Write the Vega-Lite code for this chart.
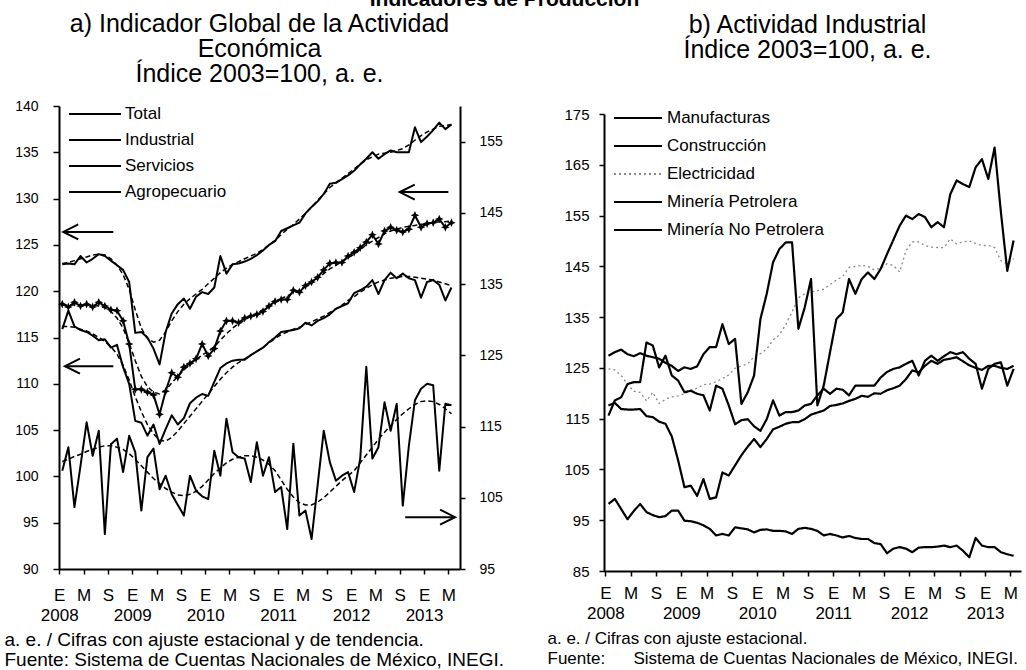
{
  "$schema": "https://vega.github.io/schema/vega-lite/v6.json",
  "background": "white",
  "padding": {"left": 4, "top": -11, "right": 2, "bottom": 2},
  "title": {"text": "Indicadores de Producción", "fontSize": 21, "fontWeight": "bold", "anchor": "middle", "offset": 2, "dx": -8, "color": "black", "font": "Liberation Sans"},
  "config": {
    "font": "Liberation Sans",
    "view": {"stroke": null},
    "axis": {"grid": false, "domainColor": "black", "domainWidth": 2, "tickColor": "black", "tickWidth": 1.5, "labelColor": "black", "titleColor": "black", "labelFont": "Liberation Sans", "titleFont": "Liberation Sans", "titleFontWeight": "normal", "labelOverlap": false},
    "axisX": {"labelOverlap": false, "labelFlush": false},
    "legend": {"labelColor": "black", "labelFont": "Liberation Sans", "padding": 0, "symbolFillColor": "transparent", "symbolStrokeWidth": 2, "labelLimit": 400}
  },
  "resolve": {"scale": {"color": "independent", "strokeDash": "independent", "shape": "independent"}, "legend": {"color": "independent", "strokeDash": "independent", "shape": "independent"}},
  "datasets": {
    "izq": [
      {"t":0,"Total":118.6,"Industrial":115.9,"Servicios":122.9,"Agropecuario":108.8,"Total_tend":118.5,"Industrial_tend":116.2,"Servicios_tend":123.0,"Agropecuario_tend":110.1},
      {"t":1,"Total":118.3,"Industrial":117.9,"Servicios":123.0,"Agropecuario":112.1,"Total_tend":118.5,"Industrial_tend":116.2,"Servicios_tend":123.1,"Agropecuario_tend":110.4},
      {"t":2,"Total":118.8,"Industrial":116.2,"Servicios":122.9,"Agropecuario":103.7,"Total_tend":118.5,"Industrial_tend":116.1,"Servicios_tend":123.3,"Agropecuario_tend":110.8},
      {"t":3,"Total":118.4,"Industrial":115.8,"Servicios":123.8,"Agropecuario":109.5,"Total_tend":118.5,"Industrial_tend":115.9,"Servicios_tend":123.5,"Agropecuario_tend":111.1},
      {"t":4,"Total":118.6,"Industrial":115.6,"Servicios":123.1,"Agropecuario":115.6,"Total_tend":118.5,"Industrial_tend":115.7,"Servicios_tend":123.7,"Agropecuario_tend":111.5},
      {"t":5,"Total":118.3,"Industrial":115.2,"Servicios":123.5,"Agropecuario":110.9,"Total_tend":118.5,"Industrial_tend":115.4,"Servicios_tend":123.9,"Agropecuario_tend":111.8},
      {"t":6,"Total":118.8,"Industrial":114.7,"Servicios":124.0,"Agropecuario":114.4,"Total_tend":118.4,"Industrial_tend":115.0,"Servicios_tend":124.0,"Agropecuario_tend":112.1},
      {"t":7,"Total":118.4,"Industrial":114.8,"Servicios":123.8,"Agropecuario":99.9,"Total_tend":118.2,"Industrial_tend":114.6,"Servicios_tend":123.9,"Agropecuario_tend":112.3},
      {"t":8,"Total":118.0,"Industrial":113.9,"Servicios":123.3,"Agropecuario":112.5,"Total_tend":117.8,"Industrial_tend":114.0,"Servicios_tend":123.5,"Agropecuario_tend":112.3},
      {"t":9,"Total":117.9,"Industrial":114.2,"Servicios":122.8,"Agropecuario":113.3,"Total_tend":117.1,"Industrial_tend":113.2,"Servicios_tend":122.8,"Agropecuario_tend":112.1},
      {"t":10,"Total":116.8,"Industrial":111.8,"Servicios":122.3,"Agropecuario":108.6,"Total_tend":116.0,"Industrial_tend":112.0,"Servicios_tend":121.8,"Agropecuario_tend":111.8},
      {"t":11,"Total":114.3,"Industrial":110.0,"Servicios":121.0,"Agropecuario":113.7,"Total_tend":114.4,"Industrial_tend":110.4,"Servicios_tend":120.2,"Agropecuario_tend":111.2},
      {"t":12,"Total":109.4,"Industrial":106.0,"Servicios":115.5,"Agropecuario":111.4,"Total_tend":112.5,"Industrial_tend":108.6,"Servicios_tend":118.0,"Agropecuario_tend":110.4},
      {"t":13,"Total":109.4,"Industrial":105.8,"Servicios":115.6,"Agropecuario":103.2,"Total_tend":110.8,"Industrial_tend":107.0,"Servicios_tend":116.0,"Agropecuario_tend":109.5},
      {"t":14,"Total":109.1,"Industrial":104.4,"Servicios":115.0,"Agropecuario":110.7,"Total_tend":109.7,"Industrial_tend":105.6,"Servicios_tend":114.9,"Agropecuario_tend":108.6},
      {"t":15,"Total":108.8,"Industrial":105.6,"Servicios":113.8,"Agropecuario":111.9,"Total_tend":109.1,"Industrial_tend":104.6,"Servicios_tend":114.5,"Agropecuario_tend":107.7},
      {"t":16,"Total":106.7,"Industrial":103.5,"Servicios":112.1,"Agropecuario":106.2,"Total_tend":108.9,"Industrial_tend":103.9,"Servicios_tend":114.7,"Agropecuario_tend":107.0},
      {"t":17,"Total":109.2,"Industrial":105.1,"Servicios":115.6,"Agropecuario":108.1,"Total_tend":109.3,"Industrial_tend":103.8,"Servicios_tend":115.6,"Agropecuario_tend":106.3},
      {"t":18,"Total":111.2,"Industrial":106.6,"Servicios":117.6,"Agropecuario":105.5,"Total_tend":110.1,"Industrial_tend":104.2,"Servicios_tend":116.8,"Agropecuario_tend":105.8},
      {"t":19,"Total":110.7,"Industrial":105.6,"Servicios":118.6,"Agropecuario":104.0,"Total_tend":110.8,"Industrial_tend":104.9,"Servicios_tend":117.8,"Agropecuario_tend":105.4},
      {"t":20,"Total":111.8,"Industrial":106.3,"Servicios":119.2,"Agropecuario":102.5,"Total_tend":111.5,"Industrial_tend":105.7,"Servicios_tend":118.6,"Agropecuario_tend":105.3},
      {"t":21,"Total":112.2,"Industrial":107.9,"Servicios":118.1,"Agropecuario":108.1,"Total_tend":112.1,"Industrial_tend":106.5,"Servicios_tend":119.2,"Agropecuario_tend":105.5},
      {"t":22,"Total":112.7,"Industrial":108.5,"Servicios":119.4,"Agropecuario":106.0,"Total_tend":112.6,"Industrial_tend":107.3,"Servicios_tend":119.7,"Agropecuario_tend":105.9},
      {"t":23,"Total":114.3,"Industrial":108.9,"Servicios":119.9,"Agropecuario":105.2,"Total_tend":113.1,"Industrial_tend":108.1,"Servicios_tend":120.2,"Agropecuario_tend":106.6},
      {"t":24,"Total":113.0,"Industrial":108.7,"Servicios":119.7,"Agropecuario":104.8,"Total_tend":113.5,"Industrial_tend":108.9,"Servicios_tend":120.8,"Agropecuario_tend":107.5},
      {"t":25,"Total":113.8,"Industrial":110.2,"Servicios":120.4,"Agropecuario":111.6,"Total_tend":114.0,"Industrial_tend":109.7,"Servicios_tend":121.4,"Agropecuario_tend":108.4},
      {"t":26,"Total":115.7,"Industrial":111.7,"Servicios":123.8,"Agropecuario":108.1,"Total_tend":114.7,"Industrial_tend":110.5,"Servicios_tend":122.0,"Agropecuario_tend":109.2},
      {"t":27,"Total":116.8,"Industrial":112.2,"Servicios":121.9,"Agropecuario":116.1,"Total_tend":115.4,"Industrial_tend":111.2,"Servicios_tend":122.5,"Agropecuario_tend":109.9},
      {"t":28,"Total":116.8,"Industrial":112.5,"Servicios":122.9,"Agropecuario":111.4,"Total_tend":116.0,"Industrial_tend":111.8,"Servicios_tend":122.9,"Agropecuario_tend":110.4},
      {"t":29,"Total":116.6,"Industrial":112.6,"Servicios":123.0,"Agropecuario":110.7,"Total_tend":116.5,"Industrial_tend":112.3,"Servicios_tend":123.2,"Agropecuario_tend":110.7},
      {"t":30,"Total":117.1,"Industrial":112.6,"Servicios":123.2,"Agropecuario":110.5,"Total_tend":116.9,"Industrial_tend":112.7,"Servicios_tend":123.5,"Agropecuario_tend":110.9},
      {"t":31,"Total":117.3,"Industrial":113.1,"Servicios":123.5,"Agropecuario":107.2,"Total_tend":117.3,"Industrial_tend":113.1,"Servicios_tend":123.8,"Agropecuario_tend":110.9},
      {"t":32,"Total":117.5,"Industrial":113.5,"Servicios":123.9,"Agropecuario":112.8,"Total_tend":117.6,"Industrial_tend":113.5,"Servicios_tend":124.1,"Agropecuario_tend":110.7},
      {"t":33,"Total":117.8,"Industrial":113.9,"Servicios":124.4,"Agropecuario":108.1,"Total_tend":118.0,"Industrial_tend":113.9,"Servicios_tend":124.5,"Agropecuario_tend":110.3},
      {"t":34,"Total":118.4,"Industrial":114.5,"Servicios":125.0,"Agropecuario":110.7,"Total_tend":118.4,"Industrial_tend":114.4,"Servicios_tend":125.0,"Agropecuario_tend":109.7},
      {"t":35,"Total":118.9,"Industrial":115.0,"Servicios":125.4,"Agropecuario":105.8,"Total_tend":118.8,"Industrial_tend":114.9,"Servicios_tend":125.5,"Agropecuario_tend":108.8},
      {"t":36,"Total":119.1,"Industrial":115.6,"Servicios":126.5,"Agropecuario":106.5,"Total_tend":119.2,"Industrial_tend":115.3,"Servicios_tend":126.1,"Agropecuario_tend":107.5},
      {"t":37,"Total":119.1,"Industrial":115.7,"Servicios":126.8,"Agropecuario":100.6,"Total_tend":119.5,"Industrial_tend":115.6,"Servicios_tend":126.7,"Agropecuario_tend":106.2},
      {"t":38,"Total":120.1,"Industrial":115.8,"Servicios":127.1,"Agropecuario":112.6,"Total_tend":119.8,"Industrial_tend":115.9,"Servicios_tend":127.2,"Agropecuario_tend":105.1},
      {"t":39,"Total":119.9,"Industrial":116.0,"Servicios":127.4,"Agropecuario":102.5,"Total_tend":120.1,"Industrial_tend":116.1,"Servicios_tend":127.8,"Agropecuario_tend":104.3},
      {"t":40,"Total":120.6,"Industrial":116.6,"Servicios":128.4,"Agropecuario":103.2,"Total_tend":120.5,"Industrial_tend":116.4,"Servicios_tend":128.4,"Agropecuario_tend":104.0},
      {"t":41,"Total":121.0,"Industrial":116.3,"Servicios":129.1,"Agropecuario":99.2,"Total_tend":120.9,"Industrial_tend":116.7,"Servicios_tend":129.1,"Agropecuario_tend":104.0},
      {"t":42,"Total":121.5,"Industrial":116.8,"Servicios":129.7,"Agropecuario":106.8,"Total_tend":121.4,"Industrial_tend":117.0,"Servicios_tend":129.8,"Agropecuario_tend":104.4},
      {"t":43,"Total":122.3,"Industrial":117.1,"Servicios":130.5,"Agropecuario":114.4,"Total_tend":121.9,"Industrial_tend":117.3,"Servicios_tend":130.5,"Agropecuario_tend":105.0},
      {"t":44,"Total":123.0,"Industrial":117.5,"Servicios":131.6,"Agropecuario":110.0,"Total_tend":122.4,"Industrial_tend":117.7,"Servicios_tend":131.2,"Agropecuario_tend":105.8},
      {"t":45,"Total":123.1,"Industrial":118.1,"Servicios":131.7,"Agropecuario":107.4,"Total_tend":122.8,"Industrial_tend":118.1,"Servicios_tend":131.7,"Agropecuario_tend":106.6},
      {"t":46,"Total":123.1,"Industrial":118.4,"Servicios":132.1,"Agropecuario":108.1,"Total_tend":123.2,"Industrial_tend":118.5,"Servicios_tend":132.2,"Agropecuario_tend":107.4},
      {"t":47,"Total":123.8,"Industrial":118.7,"Servicios":132.5,"Agropecuario":108.6,"Total_tend":123.6,"Industrial_tend":119.0,"Servicios_tend":132.7,"Agropecuario_tend":108.1},
      {"t":48,"Total":124.2,"Industrial":119.8,"Servicios":133.0,"Agropecuario":105.8,"Total_tend":124.0,"Industrial_tend":119.4,"Servicios_tend":133.2,"Agropecuario_tend":108.8},
      {"t":49,"Total":124.7,"Industrial":120.1,"Servicios":133.7,"Agropecuario":110.5,"Total_tend":124.5,"Industrial_tend":119.9,"Servicios_tend":133.7,"Agropecuario_tend":109.9},
      {"t":50,"Total":125.3,"Industrial":120.5,"Servicios":134.3,"Agropecuario":123.4,"Total_tend":125.0,"Industrial_tend":120.3,"Servicios_tend":134.2,"Agropecuario_tend":111.0},
      {"t":51,"Total":126.1,"Industrial":121.2,"Servicios":135.0,"Agropecuario":110.5,"Total_tend":125.4,"Industrial_tend":120.7,"Servicios_tend":134.5,"Agropecuario_tend":112.1},
      {"t":52,"Total":125.1,"Industrial":119.7,"Servicios":134.3,"Agropecuario":112.1,"Total_tend":125.8,"Industrial_tend":121.0,"Servicios_tend":134.8,"Agropecuario_tend":113.2},
      {"t":53,"Total":126.5,"Industrial":121.2,"Servicios":134.8,"Agropecuario":118.4,"Total_tend":126.2,"Industrial_tend":121.2,"Servicios_tend":134.9,"Agropecuario_tend":114.2},
      {"t":54,"Total":126.9,"Industrial":122.0,"Servicios":135.2,"Agropecuario":114.4,"Total_tend":126.5,"Industrial_tend":121.4,"Servicios_tend":135.0,"Agropecuario_tend":115.1},
      {"t":55,"Total":126.6,"Industrial":121.4,"Servicios":135.0,"Agropecuario":118.2,"Total_tend":126.7,"Industrial_tend":121.5,"Servicios_tend":135.2,"Agropecuario_tend":116.0},
      {"t":56,"Total":126.4,"Industrial":121.9,"Servicios":135.0,"Agropecuario":103.9,"Total_tend":126.9,"Industrial_tend":121.6,"Servicios_tend":135.4,"Agropecuario_tend":116.8},
      {"t":57,"Total":126.7,"Industrial":121.4,"Servicios":135.0,"Agropecuario":112.3,"Total_tend":127.0,"Industrial_tend":121.6,"Servicios_tend":135.8,"Agropecuario_tend":117.5},
      {"t":58,"Total":128.2,"Industrial":121.2,"Servicios":137.7,"Agropecuario":118.7,"Total_tend":127.1,"Industrial_tend":121.5,"Servicios_tend":136.3,"Agropecuario_tend":118.1},
      {"t":59,"Total":126.9,"Industrial":119.3,"Servicios":136.1,"Agropecuario":120.3,"Total_tend":127.2,"Industrial_tend":121.4,"Servicios_tend":136.8,"Agropecuario_tend":118.5},
      {"t":60,"Total":127.3,"Industrial":121.0,"Servicios":136.7,"Agropecuario":121.0,"Total_tend":127.3,"Industrial_tend":121.3,"Servicios_tend":137.2,"Agropecuario_tend":118.6},
      {"t":61,"Total":127.4,"Industrial":121.2,"Servicios":137.4,"Agropecuario":120.8,"Total_tend":127.4,"Industrial_tend":121.2,"Servicios_tend":137.5,"Agropecuario_tend":118.5},
      {"t":62,"Total":127.8,"Industrial":120.7,"Servicios":138.2,"Agropecuario":108.8,"Total_tend":127.5,"Industrial_tend":121.0,"Servicios_tend":137.8,"Agropecuario_tend":118.1},
      {"t":63,"Total":126.9,"Industrial":119.0,"Servicios":137.5,"Agropecuario":118.2,"Total_tend":127.5,"Industrial_tend":120.8,"Servicios_tend":137.9,"Agropecuario_tend":117.5},
      {"t":64,"Total":127.4,"Industrial":120.4,"Servicios":138.0,"Agropecuario":118.0,"Total_tend":127.6,"Industrial_tend":120.6,"Servicios_tend":138.0,"Agropecuario_tend":116.8}
    ],
    "der": [
      {"t":0,"Manufacturas":117.6,"Construcción":115.6,"Electricidad":124.8,"Minería Petrolera":98.2,"Minería No Petrolera":127.4},
      {"t":1,"Manufacturas":118.1,"Construcción":118.6,"Electricidad":124.6,"Minería Petrolera":99.2,"Minería No Petrolera":128.1},
      {"t":2,"Manufacturas":116.9,"Construcción":119.2,"Electricidad":123.5,"Minería Petrolera":97.2,"Minería No Petrolera":128.6},
      {"t":3,"Manufacturas":116.8,"Construcción":121.8,"Electricidad":121.8,"Minería Petrolera":95.2,"Minería No Petrolera":127.7},
      {"t":4,"Manufacturas":116.8,"Construcción":122.2,"Electricidad":120.4,"Minería Petrolera":96.8,"Minería No Petrolera":127.3},
      {"t":5,"Manufacturas":116.9,"Construcción":122.2,"Electricidad":120.2,"Minería Petrolera":98.2,"Minería No Petrolera":127.9},
      {"t":6,"Manufacturas":115.5,"Construcción":130.0,"Electricidad":118.5,"Minería Petrolera":96.6,"Minería No Petrolera":127.4},
      {"t":7,"Manufacturas":115.3,"Construcción":129.4,"Electricidad":120.2,"Minería Petrolera":96.0,"Minería No Petrolera":127.1},
      {"t":8,"Manufacturas":114.4,"Construcción":125.1,"Electricidad":118.0,"Minería Petrolera":95.6,"Minería No Petrolera":126.8},
      {"t":9,"Manufacturas":114.0,"Construcción":127.4,"Electricidad":118.8,"Minería Petrolera":95.8,"Minería No Petrolera":126.0},
      {"t":10,"Manufacturas":111.5,"Construcción":123.5,"Electricidad":119.3,"Minería Petrolera":96.9,"Minería No Petrolera":125.4},
      {"t":11,"Manufacturas":106.8,"Construcción":122.5,"Electricidad":119.5,"Minería Petrolera":96.9,"Minería No Petrolera":124.4},
      {"t":12,"Manufacturas":101.5,"Construcción":120.2,"Electricidad":119.9,"Minería Petrolera":94.9,"Minería No Petrolera":125.1},
      {"t":13,"Manufacturas":101.8,"Construcción":120.5,"Electricidad":120.6,"Minería Petrolera":94.8,"Minería No Petrolera":124.8},
      {"t":14,"Manufacturas":99.8,"Construcción":119.9,"Electricidad":121.0,"Minería Petrolera":94.5,"Minería No Petrolera":125.3},
      {"t":15,"Manufacturas":103.1,"Construcción":119.6,"Electricidad":121.7,"Minería Petrolera":94.0,"Minería No Petrolera":127.7},
      {"t":16,"Manufacturas":99.2,"Construcción":116.6,"Electricidad":121.8,"Minería Petrolera":93.3,"Minería No Petrolera":129.1},
      {"t":17,"Manufacturas":99.5,"Construcción":121.5,"Electricidad":122.3,"Minería Petrolera":92.0,"Minería No Petrolera":129.1},
      {"t":18,"Manufacturas":104.4,"Construcción":120.9,"Electricidad":122.9,"Minería Petrolera":92.3,"Minería No Petrolera":133.6},
      {"t":19,"Manufacturas":103.8,"Construcción":117.6,"Electricidad":123.6,"Minería Petrolera":92.0,"Minería No Petrolera":129.7},
      {"t":20,"Manufacturas":105.8,"Construcción":113.9,"Electricidad":124.9,"Minería Petrolera":93.6,"Minería No Petrolera":130.7},
      {"t":21,"Manufacturas":107.8,"Construcción":114.7,"Electricidad":125.4,"Minería Petrolera":93.4,"Minería No Petrolera":117.9},
      {"t":22,"Manufacturas":109.5,"Construcción":114.9,"Electricidad":125.8,"Minería Petrolera":93.2,"Minería No Petrolera":120.2},
      {"t":23,"Manufacturas":111.0,"Construcción":113.5,"Electricidad":127.2,"Minería Petrolera":92.6,"Minería No Petrolera":123.5},
      {"t":24,"Manufacturas":109.4,"Construcción":112.6,"Electricidad":127.8,"Minería Petrolera":93.1,"Minería No Petrolera":134.6},
      {"t":25,"Manufacturas":111.0,"Construcción":114.9,"Electricidad":128.7,"Minería Petrolera":93.2,"Minería No Petrolera":139.6},
      {"t":26,"Manufacturas":112.9,"Construcción":118.6,"Electricidad":130.5,"Minería Petrolera":92.9,"Minería No Petrolera":145.8},
      {"t":27,"Manufacturas":113.4,"Construcción":115.6,"Electricidad":131.5,"Minería Petrolera":92.9,"Minería No Petrolera":148.4},
      {"t":28,"Manufacturas":114.0,"Construcción":116.3,"Electricidad":133.5,"Minería Petrolera":92.8,"Minería No Petrolera":149.7},
      {"t":29,"Manufacturas":114.3,"Construcción":116.3,"Electricidad":136.0,"Minería Petrolera":92.3,"Minería No Petrolera":149.7},
      {"t":30,"Manufacturas":114.3,"Construcción":116.6,"Electricidad":138.8,"Minería Petrolera":93.3,"Minería No Petrolera":132.7},
      {"t":31,"Manufacturas":114.9,"Construcción":117.6,"Electricidad":139.6,"Minería Petrolera":93.5,"Minería No Petrolera":136.9},
      {"t":32,"Manufacturas":115.8,"Construcción":117.9,"Electricidad":139.9,"Minería Petrolera":93.3,"Minería No Petrolera":142.5},
      {"t":33,"Manufacturas":116.2,"Construcción":119.6,"Electricidad":140.2,"Minería Petrolera":92.9,"Minería No Petrolera":117.6},
      {"t":34,"Manufacturas":116.6,"Construcción":120.9,"Electricidad":140.5,"Minería Petrolera":92.0,"Minería No Petrolera":121.5},
      {"t":35,"Manufacturas":117.5,"Construcción":119.9,"Electricidad":141.4,"Minería Petrolera":92.3,"Minería No Petrolera":128.1},
      {"t":36,"Manufacturas":117.7,"Construcción":120.9,"Electricidad":142.3,"Minería Petrolera":92.0,"Minería No Petrolera":134.6},
      {"t":37,"Manufacturas":118.0,"Construcción":120.7,"Electricidad":143.0,"Minería Petrolera":91.6,"Minería No Petrolera":135.9},
      {"t":38,"Manufacturas":118.5,"Construcción":119.6,"Electricidad":144.8,"Minería Petrolera":91.9,"Minería No Petrolera":142.5},
      {"t":39,"Manufacturas":118.9,"Construcción":121.5,"Electricidad":145.0,"Minería Petrolera":91.5,"Minería No Petrolera":139.6},
      {"t":40,"Manufacturas":119.5,"Construcción":121.5,"Electricidad":145.2,"Minería Petrolera":91.3,"Minería No Petrolera":142.5},
      {"t":41,"Manufacturas":119.3,"Construcción":121.5,"Electricidad":145.0,"Minería Petrolera":91.3,"Minería No Petrolera":143.8},
      {"t":42,"Manufacturas":120.0,"Construcción":121.5,"Electricidad":144.3,"Minería Petrolera":90.5,"Minería No Petrolera":142.5},
      {"t":43,"Manufacturas":119.9,"Construcción":123.1,"Electricidad":144.6,"Minería Petrolera":90.3,"Minería No Petrolera":144.5},
      {"t":44,"Manufacturas":120.6,"Construcción":124.2,"Electricidad":145.5,"Minería Petrolera":88.5,"Minería No Petrolera":147.4},
      {"t":45,"Manufacturas":121.0,"Construcción":124.8,"Electricidad":145.2,"Minería Petrolera":89.4,"Minería No Petrolera":150.2},
      {"t":46,"Manufacturas":121.5,"Construcción":125.1,"Electricidad":143.9,"Minería Petrolera":89.7,"Minería No Petrolera":153.0},
      {"t":47,"Manufacturas":122.8,"Construcción":125.8,"Electricidad":148.1,"Minería Petrolera":89.4,"Minería No Petrolera":155.0},
      {"t":48,"Manufacturas":124.5,"Construcción":126.4,"Electricidad":149.8,"Minería Petrolera":88.7,"Minería No Petrolera":154.3},
      {"t":49,"Manufacturas":124.1,"Construcción":123.5,"Electricidad":149.8,"Minería Petrolera":89.6,"Minería No Petrolera":155.3},
      {"t":50,"Manufacturas":125.4,"Construcción":126.4,"Electricidad":149.1,"Minería Petrolera":89.7,"Minería No Petrolera":154.7},
      {"t":51,"Manufacturas":126.4,"Construcción":127.4,"Electricidad":148.8,"Minería Petrolera":89.7,"Minería No Petrolera":152.7},
      {"t":52,"Manufacturas":125.8,"Construcción":126.4,"Electricidad":148.7,"Minería Petrolera":89.8,"Minería No Petrolera":153.7},
      {"t":53,"Manufacturas":126.6,"Construcción":127.3,"Electricidad":148.7,"Minería Petrolera":90.0,"Minería No Petrolera":152.7},
      {"t":54,"Manufacturas":126.8,"Construcción":128.1,"Electricidad":150.4,"Minería Petrolera":89.7,"Minería No Petrolera":159.2},
      {"t":55,"Manufacturas":127.1,"Construcción":127.7,"Electricidad":149.4,"Minería Petrolera":90.0,"Minería No Petrolera":161.9},
      {"t":56,"Manufacturas":126.3,"Construcción":128.1,"Electricidad":149.8,"Minería Petrolera":89.0,"Minería No Petrolera":161.2},
      {"t":57,"Manufacturas":125.5,"Construcción":126.8,"Electricidad":150.0,"Minería Petrolera":87.7,"Minería No Petrolera":160.6},
      {"t":58,"Manufacturas":125.0,"Construcción":125.8,"Electricidad":149.5,"Minería Petrolera":91.5,"Minería No Petrolera":164.5},
      {"t":59,"Manufacturas":124.6,"Construcción":120.9,"Electricidad":149.1,"Minería Petrolera":90.0,"Minería No Petrolera":166.1},
      {"t":60,"Manufacturas":125.4,"Construcción":124.8,"Electricidad":149.1,"Minería Petrolera":89.7,"Minería No Petrolera":162.2},
      {"t":61,"Manufacturas":125.4,"Construcción":125.8,"Electricidad":148.7,"Minería Petrolera":89.7,"Minería No Petrolera":168.4},
      {"t":62,"Manufacturas":125.0,"Construcción":126.1,"Electricidad":146.1,"Minería Petrolera":88.7,"Minería No Petrolera":155.6},
      {"t":63,"Manufacturas":124.8,"Construcción":121.5,"Electricidad":145.5,"Minería Petrolera":88.3,"Minería No Petrolera":144.1},
      {"t":64,"Manufacturas":125.4,"Construcción":124.8,"Electricidad":146.5,"Minería Petrolera":88.0,"Minería No Petrolera":150.1}
    ],
    "flechas": [
      {"t": 0.16, "t2": 8.4, "v": 126.4, "dir": "izq"},
      {"t": 0.44, "t2": 8.4, "v": 111.9, "dir": "izq"},
      {"t": 55.5, "t2": 63.5, "v": 130.7, "dir": "izq"},
      {"t": 64.6, "t2": 56.4, "v": 95.6, "dir": "der"}
    ]
  },
  "spacing": 43,
  "hconcat": [
    {
      "width": 401,
      "height": 463,
      "title": {"text": ["a) Indicador Global de la Actividad", "Económica", "Índice 2003=100, a. e."], "fontSize": 25, "lineHeight": 25, "fontWeight": "normal", "offset": 12, "anchor": "middle", "color": "black"},
      "resolve": {"scale": {"y": "independent"}},
      "encoding": {
        "x": {"field": "t", "type": "quantitative", "scale": {"domain": [-0.54, 65.41], "nice": false, "zero": false},
          "axis": {
            "values": [-0.5, 3.5, 7.5, 11.5, 15.5, 19.5, 23.5, 27.5, 31.5, 35.5, 39.5, 43.5, 47.5, 51.5, 55.5, 59.5, 63.5],
            "labelExpr": "(datum.value + 0.5) % 12 == 0 ? ['E', '' + (2008 + (datum.value + 0.5) / 12)] : ((datum.value + 0.5) % 12 == 4 ? 'M' : 'S')",
            "labelFontSize": 17, "labelLineHeight": 20, "labelPadding": 13, "labelFlush": false, "labelOverlap": false, "labelDx": 3,
            "tickSize": 5,
            "title": ["a. e. / Cifras con ajuste estacional y de tendencia.", "Fuente: Sistema de Cuentas Nacionales de México, INEGI."],
            "titleFontSize": 19, "titleAnchor": "start", "titleAlign": "left", "titleX": -55, "titleY": 61, "titleBaseline": "top", "titleLineHeight": 20
          }
        }
      },
      "layer": [
        {
          "layer": [
            {
              "data": {"name": "izq"},
              "transform": [{"fold": ["Total", "Industrial", "Servicios"], "as": ["serie", "valor"]}],
              "mark": {"type": "line", "strokeWidth": 2, "strokeJoin": "round"},
              "encoding": {
                "y": {"field": "valor", "type": "quantitative", "scale": {"domain": [90, 140], "nice": false, "zero": false},
                  "axis": {"orient": "left", "values": [90, 95, 100, 105, 110, 115, 120, 125, 130, 135, 140], "tickSize": 6, "labelPadding": 15, "labelFontSize": 14, "title": null}
                },
                "color": {"field": "serie", "type": "nominal",
                  "scale": {"domain": ["Total", "Industrial", "Servicios", "Agropecuario"], "range": ["#000000", "#000000", "#000000", "#000000"]},
                  "legend": {"title": null, "orient": "none", "legendX": 9, "legendY": -3, "direction": "vertical", "symbolType": "M-2.6,0L2.6,0", "symbolSize": 400, "symbolOffset": 16, "labelOffset": 19, "labelFontSize": 17, "rowPadding": 7}
                }
              }
            },
            {
              "data": {"name": "izq"},
              "transform": [{"fold": ["Total_tend", "Industrial_tend", "Servicios_tend"], "as": ["serie_t", "valor"]}],
              "mark": {"type": "line", "strokeWidth": 1.5, "strokeDash": [5, 3], "color": "black"},
              "encoding": {
                "y": {"field": "valor", "type": "quantitative", "scale": {"domain": [90, 140], "nice": false, "zero": false}},
                "detail": {"field": "serie_t"}
              }
            },
            {
              "data": {"name": "izq"},
              "mark": {"type": "point", "filled": true, "color": "black", "opacity": 1, "size": 75, "shape": "M0,-1L0.3,-0.3L1,0L0.3,0.3L0,1L-0.3,0.3L-1,0L-0.3,-0.3Z"},
              "encoding": {
                "y": {"field": "Total", "type": "quantitative", "scale": {"domain": [90, 140], "nice": false, "zero": false}}
              }
            },
            {
              "data": {"name": "flechas"},
              "mark": {"type": "rule", "strokeWidth": 2, "color": "black"},
              "encoding": {
                "x2": {"field": "t2"},
                "y": {"field": "v", "type": "quantitative", "scale": {"domain": [90, 140], "nice": false, "zero": false}}
              }
            },
            {
              "data": {"name": "flechas"},
              "mark": {"type": "point", "filled": false, "strokeWidth": 2, "color": "black", "opacity": 1, "size": 225},
              "encoding": {
                "y": {"field": "v", "type": "quantitative", "scale": {"domain": [90, 140], "nice": false, "zero": false}},
                "shape": {"field": "dir", "type": "nominal", "scale": {"domain": ["izq", "der"], "range": ["M2,-1L0,0L2,1", "M-2,-1L0,0L-2,1"]}, "legend": null}
              }
            }
          ]
        },
        {
          "layer": [
            {
              "data": {"name": "izq"},
              "transform": [{"fold": ["Agropecuario"], "as": ["serie", "valor"]}],
              "mark": {"type": "line", "strokeWidth": 2, "strokeJoin": "round"},
              "encoding": {
                "y": {"field": "valor", "type": "quantitative", "scale": {"domain": [95, 160], "nice": false, "zero": false},
                  "axis": {"orient": "right", "values": [95, 105, 115, 125, 135, 145, 155], "tickSize": 5, "labelPadding": 14, "labelFontSize": 14, "title": null}
                },
                "color": {"field": "serie", "type": "nominal", "scale": {"domain": ["Total", "Industrial", "Servicios", "Agropecuario"], "range": ["#000000", "#000000", "#000000", "#000000"]},
                  "legend": {"title": null, "orient": "none", "legendX": 9, "legendY": -3, "direction": "vertical", "symbolType": "M-2.6,0L2.6,0", "symbolSize": 400, "symbolOffset": 16, "labelOffset": 19, "labelFontSize": 17, "rowPadding": 7}
                }
              }
            },
            {
              "data": {"name": "izq"},
              "mark": {"type": "line", "strokeWidth": 1.5, "strokeDash": [5, 3], "color": "black"},
              "encoding": {
                "y": {"field": "Agropecuario_tend", "type": "quantitative", "scale": {"domain": [95, 160], "nice": false, "zero": false}}
              }
            }
          ]
        }
      ]
    },
    {
      "width": 417,
      "height": 465,
      "title": {"text": ["b) Actividad Industrial", "Índice 2003=100, a. e."], "fontSize": 25, "lineHeight": 25, "fontWeight": "normal", "offset": 43, "anchor": "middle", "dx": -5, "color": "black"},
      "data": {"name": "der"},
      "encoding": {
        "x": {"field": "t", "type": "quantitative", "scale": {"domain": [-0.71, 65.17], "nice": false, "zero": false},
          "axis": {
            "values": [-0.5, 3.5, 7.5, 11.5, 15.5, 19.5, 23.5, 27.5, 31.5, 35.5, 39.5, 43.5, 47.5, 51.5, 55.5, 59.5, 63.5],
            "labelExpr": "(datum.value + 0.5) % 12 == 0 ? ['E', '' + (2008 + (datum.value + 0.5) / 12)] : ((datum.value + 0.5) % 12 == 4 ? 'M' : 'S')",
            "labelFontSize": 17, "labelLineHeight": 20, "labelPadding": 9, "labelFlush": false, "labelOverlap": false, "labelDx": 2,
            "tickSize": 5,
            "title": ["a. e. / Cifras con ajuste estacional.", "Fuente:\u00a0\u00a0\u00a0\u00a0\u00a0\u00a0Sistema de Cuentas Nacionales de México, INEGI."],
            "titleFontSize": 17, "titleAnchor": "start", "titleAlign": "left", "titleX": -57, "titleY": 59, "titleBaseline": "top", "titleLineHeight": 20
          }
        }
      },
      "layer": [
        {
          "transform": [{"fold": ["Electricidad"], "as": ["serie", "valor"]}],
          "mark": {"type": "line", "strokeWidth": 1.3},
          "encoding": {
            "y": {"field": "valor", "type": "quantitative", "scale": {"domain": [85, 175], "range": [465, 8], "nice": false, "zero": false}},
            "color": {"field": "serie", "type": "nominal", "scale": {"domain": ["Manufacturas", "Construcción", "Electricidad", "Minería Petrolera", "Minería No Petrolera"], "range": ["#000000", "#000000", "#8a8a8a", "#000000", "#000000"]},
              "legend": {"title": null, "orient": "none", "legendX": 9, "legendY": 1, "direction": "vertical", "symbolType": "M-2.4,0L2.4,0", "symbolSize": 400, "symbolOffset": 14, "labelOffset": 18, "labelFontSize": 17, "rowPadding": 9}
            },
            "strokeDash": {"field": "serie", "type": "nominal", "scale": {"domain": ["Manufacturas", "Construcción", "Electricidad", "Minería Petrolera", "Minería No Petrolera"], "range": [[1, 0], [1, 0], [2, 3], [1, 0], [1, 0]]},
              "legend": {"title": null, "orient": "none", "legendX": 9, "legendY": 1, "direction": "vertical", "symbolType": "M-2.4,0L2.4,0", "symbolSize": 400, "symbolOffset": 14, "labelOffset": 18, "labelFontSize": 17, "rowPadding": 9}
            }
          }
        },
        {
          "transform": [{"fold": ["Manufacturas", "Construcción", "Minería Petrolera", "Minería No Petrolera"], "as": ["serie", "valor"]}],
          "mark": {"type": "line", "strokeWidth": 2.2, "strokeJoin": "round"},
          "encoding": {
            "y": {"field": "valor", "type": "quantitative", "scale": {"domain": [85, 175], "range": [465, 8], "nice": false, "zero": false},
              "axis": {"orient": "left", "values": [85, 95, 105, 115, 125, 135, 145, 155, 165, 175], "tickSize": 5, "labelPadding": 10, "labelFontSize": 15, "title": null}
            },
            "color": {"field": "serie", "type": "nominal", "scale": {"domain": ["Manufacturas", "Construcción", "Electricidad", "Minería Petrolera", "Minería No Petrolera"], "range": ["#000000", "#000000", "#8a8a8a", "#000000", "#000000"]},
              "legend": {"title": null, "orient": "none", "legendX": 9, "legendY": 1, "direction": "vertical", "symbolType": "M-2.4,0L2.4,0", "symbolSize": 400, "symbolOffset": 14, "labelOffset": 18, "labelFontSize": 17, "rowPadding": 9}
            },
            "strokeDash": {"field": "serie", "type": "nominal", "scale": {"domain": ["Manufacturas", "Construcción", "Electricidad", "Minería Petrolera", "Minería No Petrolera"], "range": [[1, 0], [1, 0], [2, 3], [1, 0], [1, 0]]},
              "legend": {"title": null, "orient": "none", "legendX": 9, "legendY": 1, "direction": "vertical", "symbolType": "M-2.4,0L2.4,0", "symbolSize": 400, "symbolOffset": 14, "labelOffset": 18, "labelFontSize": 17, "rowPadding": 9}
            }
          }
        }
      ]
    }
  ]
}
